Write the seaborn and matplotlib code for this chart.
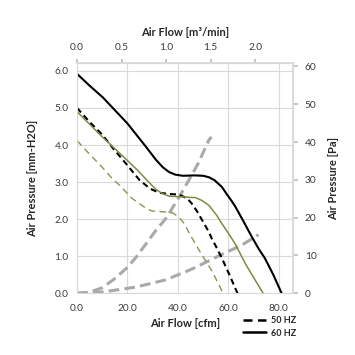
import matplotlib
matplotlib.use("Agg")
import matplotlib.pyplot as plt
from matplotlib.lines import Line2D
import seaborn as sns
import pandas as pd

# ---- data (Air flow in cfm, pressure in mm-H2O) ----
black60_cfm = [0, 5, 10.3, 15, 20, 23.5, 27, 31.3, 34, 36.5, 39, 42, 46.5, 50, 52.3, 54.5, 57.4, 59.5, 61.4, 62.8, 65.5, 69.3, 72, 74.5, 77.8, 81.1]
black60_mm = [5.92, 5.6, 5.28, 4.94, 4.58, 4.28, 3.98, 3.6, 3.4, 3.27, 3.2, 3.17, 3.18, 3.17, 3.13, 3.05, 2.87, 2.66, 2.48, 2.33, 2.0, 1.52, 1.2, 0.94, 0.5, 0.0]

olive60_cfm = [0, 5, 10, 15, 20, 24, 27.7, 31, 33.5, 36.5, 41.8, 47, 49.6, 52.3, 55.4, 57.4, 60.1, 62.8, 66.7, 70.3, 73.8]
olive60_mm = [4.9, 4.56, 4.22, 3.9, 3.58, 3.32, 3.05, 2.82, 2.7, 2.62, 2.6, 2.58, 2.5, 2.37, 2.1, 1.88, 1.61, 1.32, 0.8, 0.39, 0.0]

black50_cfm = [0, 5, 10, 14.3, 20, 24.7, 29, 32.7, 36.5, 40.5, 43, 44.3, 45.5, 47.5, 49.6, 52.3, 53.5, 54.8, 57.4, 60.4, 63.6]
black50_mm = [5.0, 4.62, 4.28, 3.91, 3.45, 3.06, 2.82, 2.71, 2.68, 2.66, 2.58, 2.51, 2.42, 2.22, 1.97, 1.65, 1.46, 1.3, 0.95, 0.5, 0.0]

olive50_cfm = [0, 5, 10, 14.3, 16.8, 21.8, 27.4, 29.7, 33.6, 37.6, 40.5, 42.5, 45.5, 49.2, 53.5, 57.9]
olive50_mm = [4.12, 3.75, 3.4, 3.07, 2.92, 2.56, 2.29, 2.22, 2.2, 2.18, 2.05, 1.88, 1.5, 1.07, 0.6, 0.0]

sysA_cfm = [0, 5, 10, 14.3, 20, 23.5, 31.3, 35, 37.8, 40.5, 44.3, 48, 52.3, 53.3]
sysA_mm = [0, 0.03, 0.15, 0.36, 0.7, 0.98, 1.7, 2.0, 2.3, 2.6, 3.05, 3.5, 4.14, 4.22]

sysB_cfm = [0, 5, 11.7, 23.5, 35, 43, 47, 57.4, 65.3, 71.9]
sysB_mm = [0, 0.01, 0.05, 0.17, 0.36, 0.58, 0.7, 1.05, 1.3, 1.58]

x_ticks = [0, 20, 40, 60, 80]
y_ticks = [0, 1, 2, 3, 4, 5, 6]
top_ticks = [0, 0.5, 1.0, 1.5, 2.0]
right_ticks = [0, 10, 20, 30, 40, 50, 60]
legend_labels = ["50 HZ", "60 HZ"]

CFM_PER_M3MIN = 35.3147
PA_PER_MM = 9.80665

sns.set_theme(style="white")
plt.rcParams['font.family'] = ['Lato', 'DejaVu Sans']

fig = plt.figure(figsize=(3.55, 3.55), dpi=100)
ax = fig.add_axes([77/355, 61.7/355, 216/355, 230.6/355])

OLIVE = '#7f8a42'
OLIVE_D = '#8b9550'
GRAY = '#a9a9a9'
TXT = '#3a3a3a'

def draw(xs, ys, color, lw, dashes=None):
    df = pd.DataFrame({'cfm': xs, 'mm': ys})
    n0 = len(ax.lines)
    sns.lineplot(data=df, x='cfm', y='mm', ax=ax, color=color, lw=lw,
                 estimator=None, sort=False, legend=False)
    ln = ax.lines[n0]
    ln.set_solid_joinstyle('round')
    if dashes is not None:
        ln.set_dashes(dashes)
        ln.set_dash_capstyle('butt')
    return ln

draw(sysA_cfm, sysA_mm, GRAY, 2.2, (3.5, 1.7))
draw(sysB_cfm, sysB_mm, GRAY, 2.2, (3.5, 1.7))
draw(olive50_cfm, olive50_mm, OLIVE_D, 1.0, (4.8, 3.2))
draw(black50_cfm, black50_mm, 'black', 1.5, (2.9, 1.9))
draw(olive60_cfm, olive60_mm, OLIVE, 1.1)
draw(black60_cfm, black60_mm, 'black', 1.5)

ax.set_xlim(0, 85.6)
ax.set_ylim(0, 6.22)
ax.set_xticks(x_ticks)
ax.set_xticklabels([f"{v:.1f}" for v in x_ticks])
ax.set_yticks(y_ticks)
ax.set_yticklabels([f"{v:.1f}" for v in y_ticks])
ax.grid(True, color='#d9d9d9', lw=0.8)
ax.set_axisbelow(True)
for s in ax.spines.values():
    s.set_color('#d9d9d9')
    s.set_linewidth(0.8)
ax.tick_params(axis='both', length=0, labelsize=7.3, colors=TXT, pad=6)
ax.tick_params(axis='x', pad=8)
ax.set_xlabel("Air Flow [cfm]", fontsize=8, fontweight='bold', labelpad=3)
ax.set_ylabel("Air Pressure [mm-H2O]", fontsize=8, fontweight='bold', labelpad=12)

top = ax.secondary_xaxis('top', functions=(lambda c: c / CFM_PER_M3MIN, lambda m: m * CFM_PER_M3MIN))
top.set_xticks(top_ticks)
top.set_xticklabels([f"{v:.1f}" for v in top_ticks])
top.tick_params(length=3, color='#bfbfbf', labelsize=7.3, labelcolor=TXT, pad=5)
top.spines['top'].set_color('#d9d9d9')
top.set_xlabel("Air Flow [m³/min]", fontsize=8, fontweight='bold', labelpad=5)

right = ax.secondary_yaxis('right', functions=(lambda m: m * PA_PER_MM, lambda p: p / PA_PER_MM))
right.set_yticks(right_ticks)
right.set_yticklabels([str(v) for v in right_ticks])
right.tick_params(length=3.5, color='#bfbfbf', labelsize=7.3, labelcolor=TXT, pad=5)
right.spines['right'].set_color('#d9d9d9')
right.set_ylabel("Air Pressure [Pa]", fontsize=8, fontweight='bold', labelpad=8)

handles = [Line2D([0], [0], color='black', lw=1.8, dashes=(3.6, 2.2), dash_capstyle='butt'),
           Line2D([0], [0], color='black', lw=1.8)]
fig.legend(handles, legend_labels, loc='upper left', bbox_to_anchor=(243/355, 1 - 316/355),
           frameon=False, borderaxespad=0, borderpad=0, handlelength=2.6, handletextpad=0.5,
           labelspacing=0.4, prop={'size': 6.5, 'weight': 'bold', 'family': ['Lato', 'DejaVu Sans']})

fig.savefig("out.png", dpi=100)
